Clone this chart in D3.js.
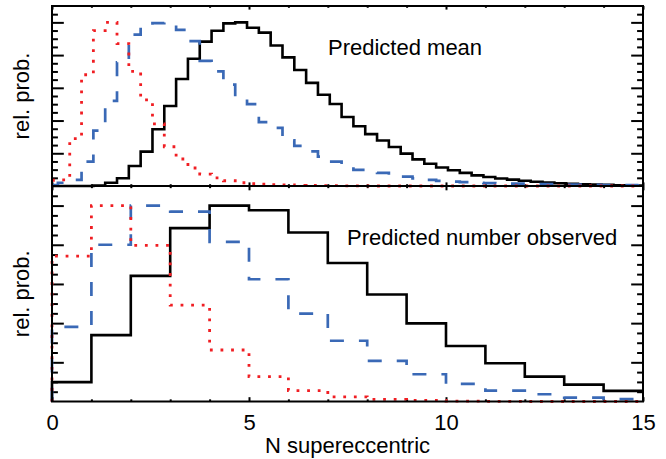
<!DOCTYPE html>
<html><head><meta charset="utf-8">
<script src="https://cdn.jsdelivr.net/npm/d3@7"></script>
<style>
body{margin:0;background:#fff}
svg{display:block}
text{font-family:"Liberation Sans",Arial,Helvetica,sans-serif;fill:#000}
</style>
</head><body>
<svg id="chart" width="666" height="459"></svg>
<script>
// ---------- DATA ----------
// Top panel: predicted mean, bins of width 0.3 centred on 0.0, 0.3, ... 15.0
const topCenters = d3.range(51).map(i => Math.round(i * 3) / 10);
const topBlack = [0, 0, 0, 0, 0.003, 0.02, 0.047, 0.122, 0.21, 0.347,
  0.489, 0.654, 0.778, 0.882, 0.949, 0.994, 1.0, 0.967, 0.937, 0.859,
  0.786, 0.709, 0.63, 0.558, 0.501, 0.422, 0.365, 0.317, 0.278, 0.238,
  0.198, 0.163, 0.136, 0.113, 0.096, 0.08, 0.065, 0.055, 0.046, 0.039,
  0.032, 0.026, 0.021, 0.017, 0.014, 0.011, 0.009, 0.007, 0.005, 0.004, 0.003];
const topBlue = [0.005, 0.02, 0.037, 0.149, 0.338, 0.52, 0.756, 0.925, 0.985, 0.995,
  1.0, 0.954, 0.885, 0.765, 0.70, 0.62, 0.53, 0.50, 0.39, 0.355,
  0.279, 0.245, 0.212, 0.18, 0.149, 0.12, 0.098, 0.09, 0.08, 0.067,
  0.057, 0.047, 0.038, 0.031, 0.027, 0.024, 0.02, 0.017, 0.016, 0.015,
  0.014, 0.012, 0.011, 0.01, 0.009, 0.008, 0.007, 0.006, 0.005, 0.005, 0.004];
const topRed = [0.035, 0.037, 0.29, 0.68, 0.95, 1.0, 0.87, 0.70, 0.526, 0.38,
  0.24, 0.165, 0.11, 0.073, 0.05, 0.032, 0.02, 0.015, 0.012, 0.008,
  0.006, 0.004, 0.003, 0.002, 0.002, 0.001, 0.001, 0.001, 0, 0,
  0, 0, 0, 0, 0, 0, 0, 0, 0, 0,
  0, 0, 0, 0, 0, 0, 0, 0, 0, 0, 0];

// Bottom panel: predicted number observed, integer bins [k, k+1), k = 0..14
const bottomBins = [0,1,2,3,4,5,6,7,8,9,10,11,12,13,14];
const bottomBlack = [0.099, 0.339, 0.641, 0.885, 1.0, 0.976, 0.863, 0.707, 0.546, 0.399, 0.283, 0.195, 0.127, 0.086, 0.054];
const bottomBlue  = [0.381, 0.80, 1.0, 0.969, 0.815, 0.624, 0.449, 0.31, 0.207, 0.139, 0.09, 0.056, 0.037, 0.02, 0.012];
const bottomRed   = [0.742, 1.0, 0.797, 0.492, 0.263, 0.127, 0.056, 0.024, 0.011, 0.005, 0.002, 0.001, 0, 0, 0];

const xMajorTicks = [0, 5, 10, 15];
const xTickLabels = ["0", "5", "10", "15"];
const panelTitles = ["Predicted mean", "Predicted number observed"];
const yTitle = "rel. prob.";
const xTitle = "N supereccentric";

// ---------- LAYOUT ----------
const L = 52, R = 643;
const panels = [
  {top: 6, bottom: 186},
  {top: 186, bottom: 401.5}
];
const svg = d3.select("#chart");
const x = d3.scaleLinear().domain([0, 15]).range([L, R]);
const yTop = d3.scaleLinear().domain([0, 1.1]).range([panels[0].bottom, panels[0].top]);
const yBot = d3.scaleLinear().domain([0, 1.1]).range([panels[1].bottom, panels[1].top]);
const yScales = [yTop, yBot];

const xMinor = d3.range(1, 15).filter(v => v % 5 !== 0);
const yMajor = [1,2,3,4,5].map(i => i * 0.2);
const yMinor = d3.range(1, 22).filter(i => i % 4 !== 0).map(i => i * 0.05);

function styleAxis(g) {
  g.select(".domain").remove();
  g.selectAll(".tick line").attr("stroke", "#000").attr("stroke-width", 2);
}

panels.forEach((p, idx) => {
  const y = yScales[idx];
  const ph = p.bottom - p.top;
  const xMajLen = ph * 0.02, xMinLen = ph * 0.01;
  const yMajLen = (R - L) * 0.02, yMinLen = (R - L) * 0.01;
  // left / right
  svg.append("g").attr("transform", `translate(${L},0)`)
    .call(d3.axisLeft(y).tickValues(yMajor).tickSize(-yMajLen).tickFormat("")).call(styleAxis);
  svg.append("g").attr("transform", `translate(${L},0)`)
    .call(d3.axisLeft(y).tickValues(yMinor).tickSize(-yMinLen).tickFormat("")).call(styleAxis);
  svg.append("g").attr("transform", `translate(${R},0)`)
    .call(d3.axisRight(y).tickValues(yMajor).tickSize(-yMajLen).tickFormat("")).call(styleAxis);
  svg.append("g").attr("transform", `translate(${R},0)`)
    .call(d3.axisRight(y).tickValues(yMinor).tickSize(-yMinLen).tickFormat("")).call(styleAxis);
  // top / bottom
  svg.append("g").attr("transform", `translate(0,${p.top})`)
    .call(d3.axisTop(x).tickValues(xMajorTicks).tickSize(-xMajLen).tickFormat("")).call(styleAxis);
  svg.append("g").attr("transform", `translate(0,${p.top})`)
    .call(d3.axisTop(x).tickValues(xMinor).tickSize(-xMinLen).tickFormat("")).call(styleAxis);
  const bAx = svg.append("g").attr("transform", `translate(0,${p.bottom})`)
    .call(d3.axisBottom(x).tickValues(xMajorTicks).tickSize(-xMajLen)
      .tickPadding(13)
      .tickFormat((d, i) => idx === 1 ? xTickLabels[i] : ""));
  styleAxis(bAx);
  bAx.selectAll("text").attr("font-size", 22).attr("fill", "#000")
    .style("font-family", '"Liberation Sans",Arial,Helvetica,sans-serif');
  svg.append("g").attr("transform", `translate(0,${p.bottom})`)
    .call(d3.axisBottom(x).tickValues(xMinor).tickSize(-xMinLen).tickFormat("")).call(styleAxis);
});

// ---------- SERIES ----------
const styles = {
  black: {stroke: "#000000", width: 2.6, dash: null},
  blue:  {stroke: "#3a69b6", width: 2.7, dash: "14,15"},
  red:   {stroke: "#f01e23", width: 2.8, dash: "2.8,7.8"}
};

function drawSeries(pts, y, curve, st) {
  const line = d3.line().x(d => x(d[0])).y(d => y(d[1])).curve(curve);
  svg.append("path").datum(pts)
    .attr("d", line)
    .attr("fill", "none")
    .attr("stroke", st.stroke)
    .attr("stroke-width", st.width)
    .attr("stroke-dasharray", st.dash)
    .attr("stroke-linejoin", "miter")
    .attr("stroke-linecap", "butt");
}

// top panel (centred steps)
[[topBlack, "black"], [topBlue, "blue"], [topRed, "red"]].forEach(([vals, k]) => {
  drawSeries(topCenters.map((c, i) => [c, vals[i]]), yTop, d3.curveStep, styles[k]);
});

// bottom panel (bins with integer edges, starting from the baseline at 0)
[[bottomBlack, "black"], [bottomBlue, "blue"], [bottomRed, "red"]].forEach(([vals, k]) => {
  const pts = [[0, 0]].concat(bottomBins.map((b, i) => [b, vals[i]]));
  pts.push([15, vals[vals.length - 1]]);
  drawSeries(pts, yBot, d3.curveStepAfter, styles[k]);
});

// ---------- FRAMES ----------
panels.forEach(p => {
  svg.append("rect").attr("x", L).attr("y", p.top)
    .attr("width", R - L).attr("height", p.bottom - p.top)
    .attr("fill", "none").attr("stroke", "#000").attr("stroke-width", 2);
});

// ---------- TEXT ----------
svg.append("text").attr("x", 328).attr("y", 55).attr("font-size", 22).text(panelTitles[0]);
svg.append("text").attr("x", 347).attr("y", 245).attr("font-size", 22).text(panelTitles[1]);
svg.append("text").attr("x", (L + R) / 2).attr("y", 453).attr("font-size", 22)
  .attr("text-anchor", "middle").text(xTitle);
panels.forEach(p => {
  svg.append("text")
    .attr("transform", `translate(29,${(p.top + p.bottom) / 2}) rotate(-90)`)
    .attr("font-size", 22).attr("text-anchor", "middle").text(yTitle);
});
</script>
</body></html>
